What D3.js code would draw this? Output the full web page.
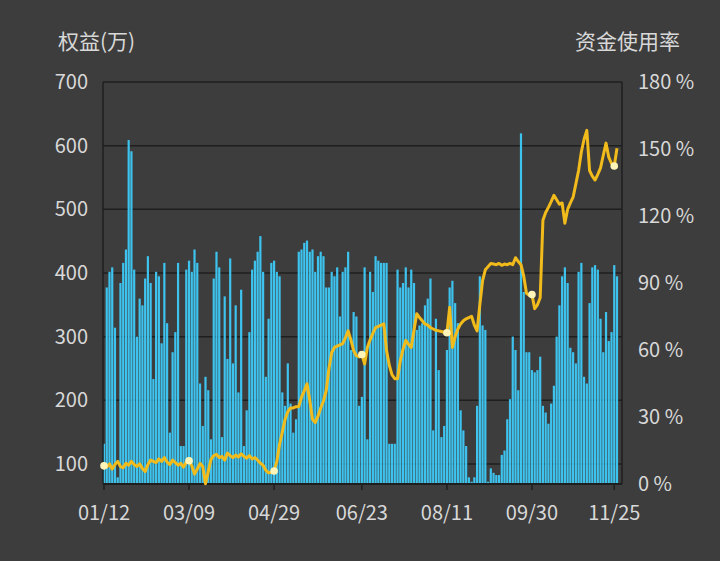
<!DOCTYPE html>
<html>
<head>
<meta charset="utf-8">
<script src="https://cdn.jsdelivr.net/npm/d3@7"></script>
<style>
  body { margin: 0; background: #3d3d3d; }
  text { font-family: "Noto Sans CJK SC", "Noto Sans", sans-serif; }
</style>
</head>
<body>
<svg id="chart" width="720" height="561"></svg>
<script>
// utilisation (%) bars, one per day
const usage = [
  18,88,95,97,70,3,90,99,105,154, 149,96,66,83,80,92,102,90,47,95,
  93,63,99,72,23,59,68,99,17,17, 96,100,95,105,99,45,26,48,42,20,
  92,104,97,21,84,56,101,54,80,41, 87,17,33,68,96,100,104,111,95,48,
  74,99,100,95,93,41,35,54,36,23, 29,104,105,108,109,104,105,95,102,104,
  102,88,88,95,93,97,75,95,
  97,104,60,77,75,35,39,97,20,95, 86,102,100,99,99,99,18,18,18,96,
  88,90,97,88,96,90,69,71,72,80, 83,92,24,74,51,21,26,60,88,91,
  81,72,33,24,17,3,1,3,35,93, 71,69,1,7,5,4,4,13,15,29,
  38,66,60,42,157,86,59,59,51,50, 51,57,35,32,27,36,44,66,80,93,
  97,90,61,59,54,95,99,48,45,81, 97,98,96,74,59,77,64,68,98,93
];
// equity (万)
const equity = [
  97,95,100,92,99,104,96,94,101,98, 104,99,96,100,93,88,99,106,104,102,
  108,104,110,103,99,106,102,98,101,95, 103,105,97,84,92,101,96,69,88,107,
  113,115,110,112,106,117,113,110,114,111, 116,112,109,113,108,110,106,101,98,90,
  86,87,89,104,131,150,170,182,188,188, 190,190,205,215,226,200,170,165,175,188,
  199,215,250,275,283,285,287,289,298,309, 295,278,270,268,272,257,283,295,305,314,
  316,318,320,278,255,240,234,234,262,280, 294,288,283,310,336,330,325,320,318,314,
  312,310,309,308,307,306,346,283,300,312, 320,325,328,330,332,318,309,350,388,405,
  410,415,414,413,415,412,414,413,415,413, 424,418,413,395,368,365,366,344,350,361,
  483,495,503,512,522,515,508,510,478,500, 510,519,540,561,590,610,624,561,552,546,
  555,565,585,604,582,572,568,596
];
const dateLabels = ["01/12", "03/09", "04/29", "06/23", "08/11", "09/30", "11/25"];
const markerIdx = [0, 31, 62, 94, 125, 156, 186];
const leftTicks = [100, 200, 300, 400, 500, 600, 700];
const rightTicks = [0, 30, 60, 90, 120, 150, 180];

const svg = d3.select("#chart");
const n = usage.length;
const x = d3.scaleLinear().domain([0, n - 1]).range([104, 617]);
const yL = d3.scaleLinear().domain([68.5, 700]).range([484, 82]);
const yR = d3.scaleLinear().domain([0, 180]).range([484, 82]);

// grid
svg.append("g").selectAll("line").data(leftTicks).enter().append("line")
  .attr("x1", 103).attr("x2", 622)
  .attr("y1", d => yL(d)).attr("y2", d => yL(d))
  .attr("stroke", "#1f1f1f").attr("stroke-width", 1.5);

// bars
svg.append("g").selectAll("rect").data(usage).enter().append("rect")
  .attr("x", (d, i) => x(i) - 1.1)
  .attr("width", 2.2)
  .attr("y", d => yR(d))
  .attr("height", d => yR(0) - yR(d))
  .attr("fill", "#3ec3ee");

// frame
svg.append("line").attr("x1", 103).attr("x2", 103).attr("y1", 82).attr("y2", 484).attr("stroke", "#1f1f1f").attr("stroke-width", 1.5);
svg.append("line").attr("x1", 622).attr("x2", 622).attr("y1", 82).attr("y2", 484).attr("stroke", "#1f1f1f").attr("stroke-width", 1.5);
svg.append("line").attr("x1", 103).attr("x2", 622).attr("y1", 484).attr("y2", 484).attr("stroke", "#1f1f1f").attr("stroke-width", 2);

// equity line
const line = d3.line().x((d, i) => x(i)).y(d => yL(d));
svg.append("path").datum(equity)
  .attr("d", line).attr("fill", "none")
  .attr("stroke", "#f2bb1c").attr("stroke-width", 3)
  .attr("stroke-linejoin", "round");

svg.append("g").selectAll("circle").data(markerIdx).enter().append("circle")
  .attr("cx", d => x(d)).attr("cy", d => yL(equity[d]))
  .attr("r", 3.8).attr("fill", "#fff4b8");

// bottom ticks + labels
svg.append("g").selectAll("line").data(markerIdx).enter().append("line")
  .attr("x1", d => x(d)).attr("x2", d => x(d)).attr("y1", 484).attr("y2", 490)
  .attr("stroke", "#1f1f1f").attr("stroke-width", 1.5);
svg.append("g").selectAll("text").data(markerIdx).enter().append("text")
  .attr("x", d => x(d)).attr("y", 520)
  .attr("text-anchor", "middle").attr("fill", "#d8d8d8").attr("font-size", 20)
  .text((d, i) => dateLabels[i]);

// left axis labels
svg.append("g").selectAll("text").data(leftTicks).enter().append("text")
  .attr("x", 88).attr("y", d => yL(d) + 7)
  .attr("text-anchor", "end").attr("fill", "#d8d8d8").attr("font-size", 20)
  .text(d => d);

// right axis labels
svg.append("g").selectAll("text").data(rightTicks).enter().append("text")
  .attr("x", 638).attr("y", d => yR(d) + 7)
  .attr("fill", "#d8d8d8").attr("font-size", 20)
  .text(d => d + " %");

svg.append("text").attr("x", 58).attr("y", 49).attr("fill", "#d8d8d8").attr("font-size", 21).text("权益(万)");
svg.append("text").attr("x", 680).attr("y", 49).attr("text-anchor", "end").attr("fill", "#d8d8d8").attr("font-size", 21).text("资金使用率");
</script>
</body>
</html>
